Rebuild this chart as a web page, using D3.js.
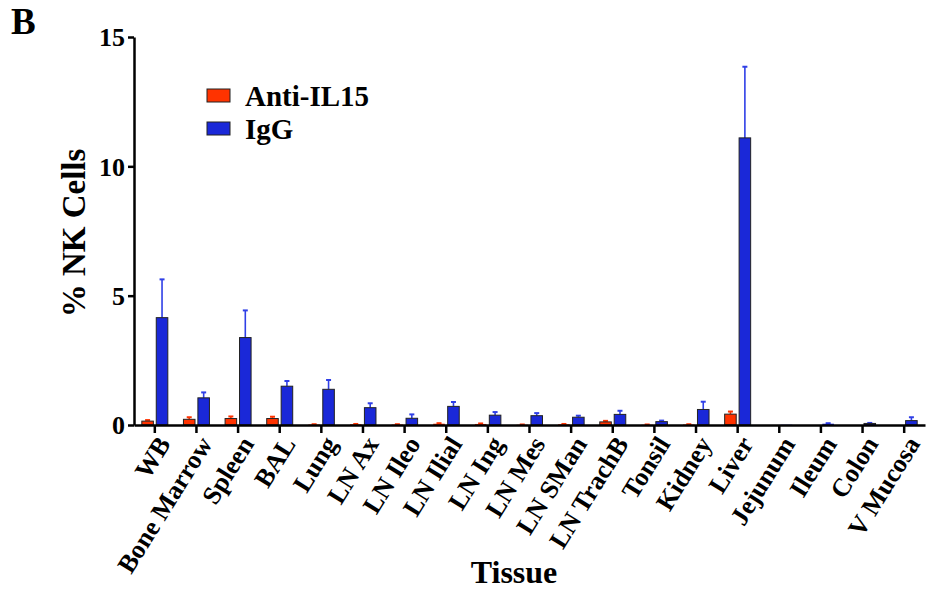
<!DOCTYPE html>
<html>
<head>
<meta charset="utf-8">
<script src="https://cdn.jsdelivr.net/npm/d3@7"></script>
<style>
  body { margin: 0; background: #fff; }
  text { font-family: "Liberation Serif", "Times New Roman", serif; font-weight: bold; fill: #000; }
</style>
</head>
<body>
<script>
(() => {
    var tissues = ["WB", "Bone Marrow", "Spleen", "BAL", "Lung", "LN Ax", "LN Ileo",
        "LN Ilial", "LN Ing", "LN Mes", "LN SMan", "LN TrachB", "Tonsil", "Kidney",
        "Liver", "Jejunum", "Ileum", "Colon", "V Mucosa"];

    var antiIL15 = [0.15, 0.22, 0.25, 0.25, 0.02, 0.03, 0.02, 0.05, 0.04, 0.01,
        0.03, 0.12, 0.01, 0.02, 0.42, 0.0, 0.0, 0.0, 0.0];
    var antiIL15Err = [0.04, 0.08, 0.08, 0.07, 0.01, 0.01, 0.01, 0.02, 0.02, 0.01,
        0.01, 0.04, 0.01, 0.01, 0.1, 0.0, 0.0, 0.0, 0.0];

    var igg = [4.15, 1.05, 3.38, 1.5, 1.38, 0.67, 0.26, 0.72, 0.38, 0.36,
        0.3, 0.41, 0.13, 0.6, 11.1, 0.01, 0.05, 0.06, 0.17];
    var iggErr = [1.48, 0.21, 1.05, 0.2, 0.36, 0.17, 0.15, 0.17, 0.12, 0.1,
        0.06, 0.14, 0.04, 0.3, 2.75, 0.0, 0.02, 0.02, 0.13];

    var yTicks = [0, 5, 10, 15];
    var seriesNames = ["Anti-IL15", "IgG"];
    var colors = ["#ff3300", "#1a28d8"];
    var errColors = ["#ff3300", "#2f3fe6"];

    var w = 927, h = 589;
    var margin = { top: 37, bottom: 164, left: 134, right: 2 };

    var svg = d3.select("body").append("svg")
        .attr("width", w).attr("height", h);

    var graph = svg.append("g")
        .attr("transform", "translate(" + [margin.left, margin.top] + ")");

    var iw = w - margin.left - margin.right,
        ih = h - margin.top - margin.bottom;

    var x = d3.scaleBand().domain(tissues).range([0, iw]).padding(0);
    var sub = d3.scaleBand().domain(seriesNames).range([-13, 13]).paddingInner(0.2).paddingOuter(0);
    var y = d3.scaleLinear().domain([0, 15]).range([ih, 0]);

    var series = [
        { name: seriesNames[0], vals: antiIL15, errs: antiIL15Err },
        { name: seriesNames[1], vals: igg, errs: iggErr }
    ];

    series.forEach((s, si) => {
        var g = graph.append("g").attr("class", "series");
        var nodes = g.selectAll(".bar").data(tissues).enter()
            .append("g").attr("class", "bar")
            .attr("transform", (d) => "translate(" + [x(d) + x.bandwidth() / 2 + sub(s.name), 0] + ")");

        var withErr = nodes.filter((d, i) => s.errs[i] > 0);
        var top = (d) => y(s.vals[tissues.indexOf(d)] + s.errs[tissues.indexOf(d)]);

        // error bars (upper only)
        withErr.append("line")
            .attr("x1", sub.bandwidth() / 2).attr("x2", sub.bandwidth() / 2)
            .attr("y1", (d) => y(s.vals[tissues.indexOf(d)]))
            .attr("y2", top)
            .attr("stroke", errColors[si]).attr("stroke-width", 1.6);
        withErr.append("line")
            .attr("x1", sub.bandwidth() / 2 - 2.5).attr("x2", sub.bandwidth() / 2 + 2.5)
            .attr("y1", top).attr("y2", top)
            .attr("stroke", errColors[si]).attr("stroke-width", 2);

        nodes.append("rect")
            .attr("x", 0)
            .attr("y", (d, i) => y(s.vals[i]))
            .attr("width", sub.bandwidth())
            .attr("height", (d, i) => y(0) - y(s.vals[i]))
            .attr("fill", colors[si])
            .attr("stroke", (d, i) => s.vals[i] > 0.05 ? "#222" : "none")
            .attr("stroke-width", 1);
    });

    // y axis
    var yAxis = graph.append("g")
        .call(d3.axisLeft(y).tickValues(yTicks).tickSize(6).tickPadding(3).tickSizeOuter(0));
    yAxis.select(".domain").attr("stroke", "#000").attr("stroke-width", 2.5);
    yAxis.selectAll(".tick line").attr("stroke-width", 2.5);
    yAxis.selectAll(".tick text").style("font-size", "26px").attr("dy", "0.34em");

    // x axis
    var xAxis = graph.append("g")
        .attr("transform", "translate(0," + ih + ")")
        .call(d3.axisBottom(x).tickSize(8).tickSizeOuter(0).tickFormat(""));
    xAxis.select(".domain").attr("stroke", "#000").attr("stroke-width", 2.5);
    xAxis.selectAll(".tick line").attr("stroke-width", 2.5);

    graph.append("g").selectAll(".xlab").data(tissues).enter()
        .append("text").attr("class", "xlab")
        .attr("transform", (d) => "translate(" + [x(d) + x.bandwidth() / 2 + 9, ih + 14] + ") rotate(-58)")
        .attr("text-anchor", "end")
        .attr("dy", "0.35em")
        .style("font-size", "26px")
        .text((d) => d);

    // axis titles
    svg.append("text")
        .attr("transform", "translate(" + [85, margin.top + ih / 2 + 2] + ") rotate(-90)")
        .attr("text-anchor", "middle")
        .style("font-size", "33px")
        .text("% NK Cells");

    svg.append("text")
        .attr("x", 514).attr("y", 583)
        .attr("text-anchor", "middle")
        .style("font-size", "32px")
        .text("Tissue");

    // panel letter
    svg.append("text")
        .attr("x", 11).attr("y", 34)
        .style("font-size", "37px")
        .text("B");

    // legend
    var legend = svg.append("g").attr("transform", "translate(207,89)");
    var items = legend.selectAll(".item").data(seriesNames).enter()
        .append("g").attr("class", "item")
        .attr("transform", (d, i) => "translate(0," + i * 33 + ")");
    items.append("rect")
        .attr("width", 23).attr("height", 13)
        .attr("fill", (d, i) => colors[i])
        .attr("stroke", "#222").attr("stroke-width", 1);
    items.append("text")
        .attr("x", 38).attr("y", 17)
        .style("font-size", "29px")
        .text((d) => d);
})()
</script>
</body>
</html>
